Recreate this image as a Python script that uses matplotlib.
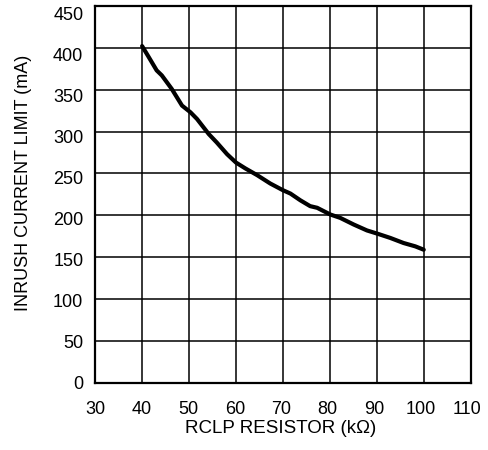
import matplotlib.pyplot as plt
from matplotlib.transforms import ScaledTranslation

plt.rcParams['font.family'] = ['Liberation Sans', 'DejaVu Sans']

# curve
rclp_k = [40.0, 41.4, 43.1, 44.2, 46.3, 48.5, 50.3, 51.7, 54.2, 55.9, 58.1, 60.0,
          62.0, 64.5, 67.3, 70.0, 71.6, 73.7, 75.8, 77.3, 80.1, 82.2, 85.1, 87.9,
          90.2, 92.9, 95.7, 98.2, 100.0]
inrush_ma = [402, 389, 373, 367, 351, 331, 323, 315, 297, 287, 273, 263,
             256, 248, 238, 230, 226, 218, 211, 209, 201, 197, 189, 182,
             178, 173, 167, 163, 159]

x_ticks = [30, 40, 50, 60, 70, 80, 90, 100, 110]
y_ticks = [0, 50, 100, 150, 200, 250, 300, 350, 400, 450]

fig = plt.figure(figsize=(4.88, 4.5), dpi=100)
ax = fig.add_axes([0.195, 0.149, 0.7695, 0.838])

ax.plot(rclp_k, inrush_ma, color='black', linewidth=3.0, solid_capstyle='round')

ax.set_xlim(30, 110)
ax.set_ylim(0, 450)
ax.set_xticks(x_ticks)
ax.set_yticks(y_ticks)
ax.grid(True, color='black', linewidth=1.1)
ax.set_axisbelow(True)
ax.tick_params(axis='x', length=0, labelsize=13, pad=13)
ax.tick_params(axis='y', length=0, labelsize=13, pad=8.5)
for s in ax.spines.values():
    s.set_linewidth(1.6)

# tick labels in the original drift a bit from their grid lines
for lab, v in zip(ax.get_yticklabels(), y_ticks):
    dy = 0.5 - v / 50 * 0.87
    lab.set_transform(lab.get_transform() + ScaledTranslation(0, dy / 100, fig.dpi_scale_trans))
for lab, v in zip(ax.get_xticklabels(), x_ticks):
    dx = 0.5 - (v - 30) / 80 * 4.5
    lab.set_transform(lab.get_transform() + ScaledTranslation(dx / 100, 0, fig.dpi_scale_trans))

ax.set_xlabel('RCLP RESISTOR (k\u03a9)', fontsize=13.5)
ax.set_ylabel('INRUSH CURRENT LIMIT (mA)', fontsize=13)
ax.xaxis.set_label_coords(0.495, -0.122)
ax.yaxis.set_label_coords(-0.19, 0.53)
ax.xaxis.label.set_va('center')
ax.yaxis.label.set_va('center')

fig.savefig('out.png', dpi=100)
